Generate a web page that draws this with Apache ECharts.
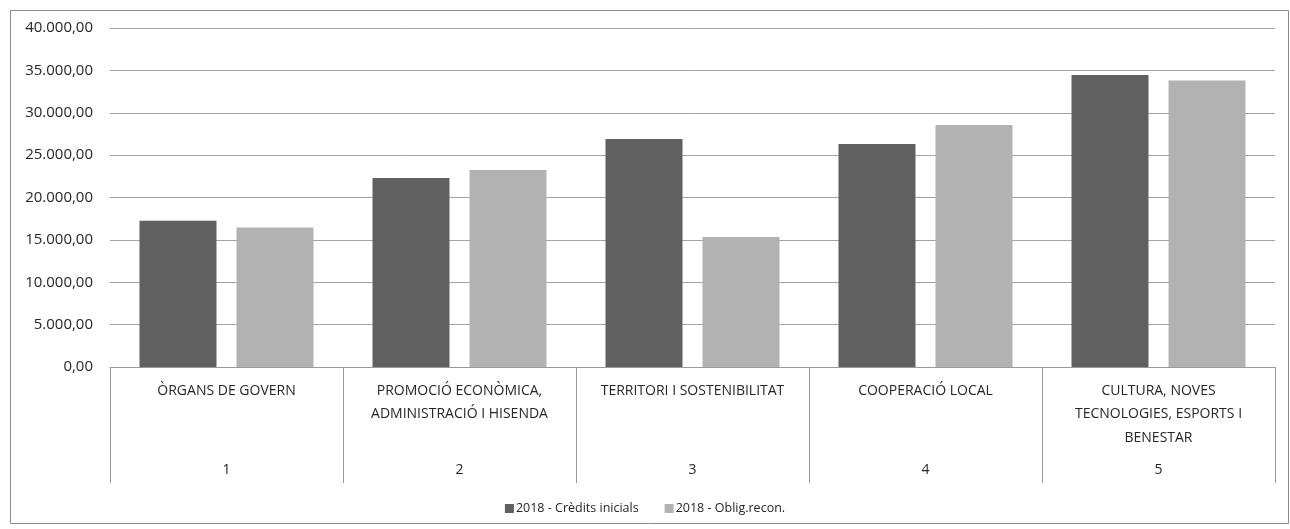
<!DOCTYPE html>
<html>
<head>
<meta charset="utf-8">
<script src="https://cdn.jsdelivr.net/npm/echarts@6/dist/echarts.min.js"></script>
<style>
html,body{margin:0;padding:0;background:#fff;}
#c{width:1290px;height:529px;}
</style>
</head>
<body>
<div id="c"></div>
<script>
var categories = [
  "ÒRGANS DE GOVERN",
  "PROMOCIÓ ECONÒMICA,\nADMINISTRACIÓ I HISENDA",
  "TERRITORI I SOSTENIBILITAT",
  "COOPERACIÓ LOCAL",
  "CULTURA, NOVES\nTECNOLOGIES, ESPORTS I\nBENESTAR"
];
var groupNumbers = ["1", "2", "3", "4", "5"];
var seriesNames = ["2018 - Crèdits inicials", "2018 - Oblig.recon."];
var creditsInicials = [17250, 22300, 26900, 26300, 34450];
var obligRecon = [16450, 23250, 15350, 28550, 33800];

function fmt(v){
  var s = Math.round(v).toString().replace(/\B(?=(\d{3})+(?!\d))/g, ".");
  return s + ",00";
}

var chart = echarts.init(document.getElementById('c'), null, {renderer:'canvas'});
var font = "Open Sans";
chart.setOption({
  animation:false,
  textStyle:{fontFamily:font},
  graphic:[{
    type:'rect', left:8, top:8,
    shape:{width:1278, height:513},
    style:{fill:'none', stroke:'#8a8a8a', lineWidth:1}
  }],
  legend:{
    top:497, left:'center',
    itemWidth:9, itemHeight:9, itemGap:26,
    icon:'rect',
    textStyle:{fontSize:12.5, color:'#262626', fontFamily:font, padding:[0,0,0,-3]},
    data:seriesNames
  },
  grid:{left:110, right:15, top:28, bottom:162},
  xAxis:[{
    type:'category',
    data:categories,
    axisLine:{lineStyle:{color:'#9a9a9a', width:1}},
    axisTick:{show:true, length:116, lineStyle:{color:'#9a9a9a'}},
    axisLabel:{
      interval:0, margin:12, verticalAlign:'top', lineHeight:23.5,
      fontSize:14, color:'#262626', fontFamily:font
    }
  },{
    type:'category',
    position:'bottom',
    offset:96,
    data:groupNumbers,
    axisLine:{show:false},
    axisTick:{show:false},
    axisLabel:{interval:0, margin:0, fontSize:14, color:'#262626', fontFamily:font}
  }],
  yAxis:{
    type:'value', min:0, max:40000, interval:5000,
    axisLine:{show:false}, axisTick:{show:false},
    splitLine:{lineStyle:{color:'#a3a3a3', width:1}},
    axisLabel:{formatter:fmt, margin:17, fontSize:15, color:'#262626', fontFamily:font}
  },
  series:[{
    name:seriesNames[0], type:'bar', data:creditsInicials,
    barWidth:77, barGap:'26%',
    itemStyle:{color:'#606060'}
  },{
    name:seriesNames[1], type:'bar', data:obligRecon,
    barWidth:77, barGap:'26%',
    itemStyle:{color:'#b2b2b2'}
  }]
});
</script>
</body>
</html>
